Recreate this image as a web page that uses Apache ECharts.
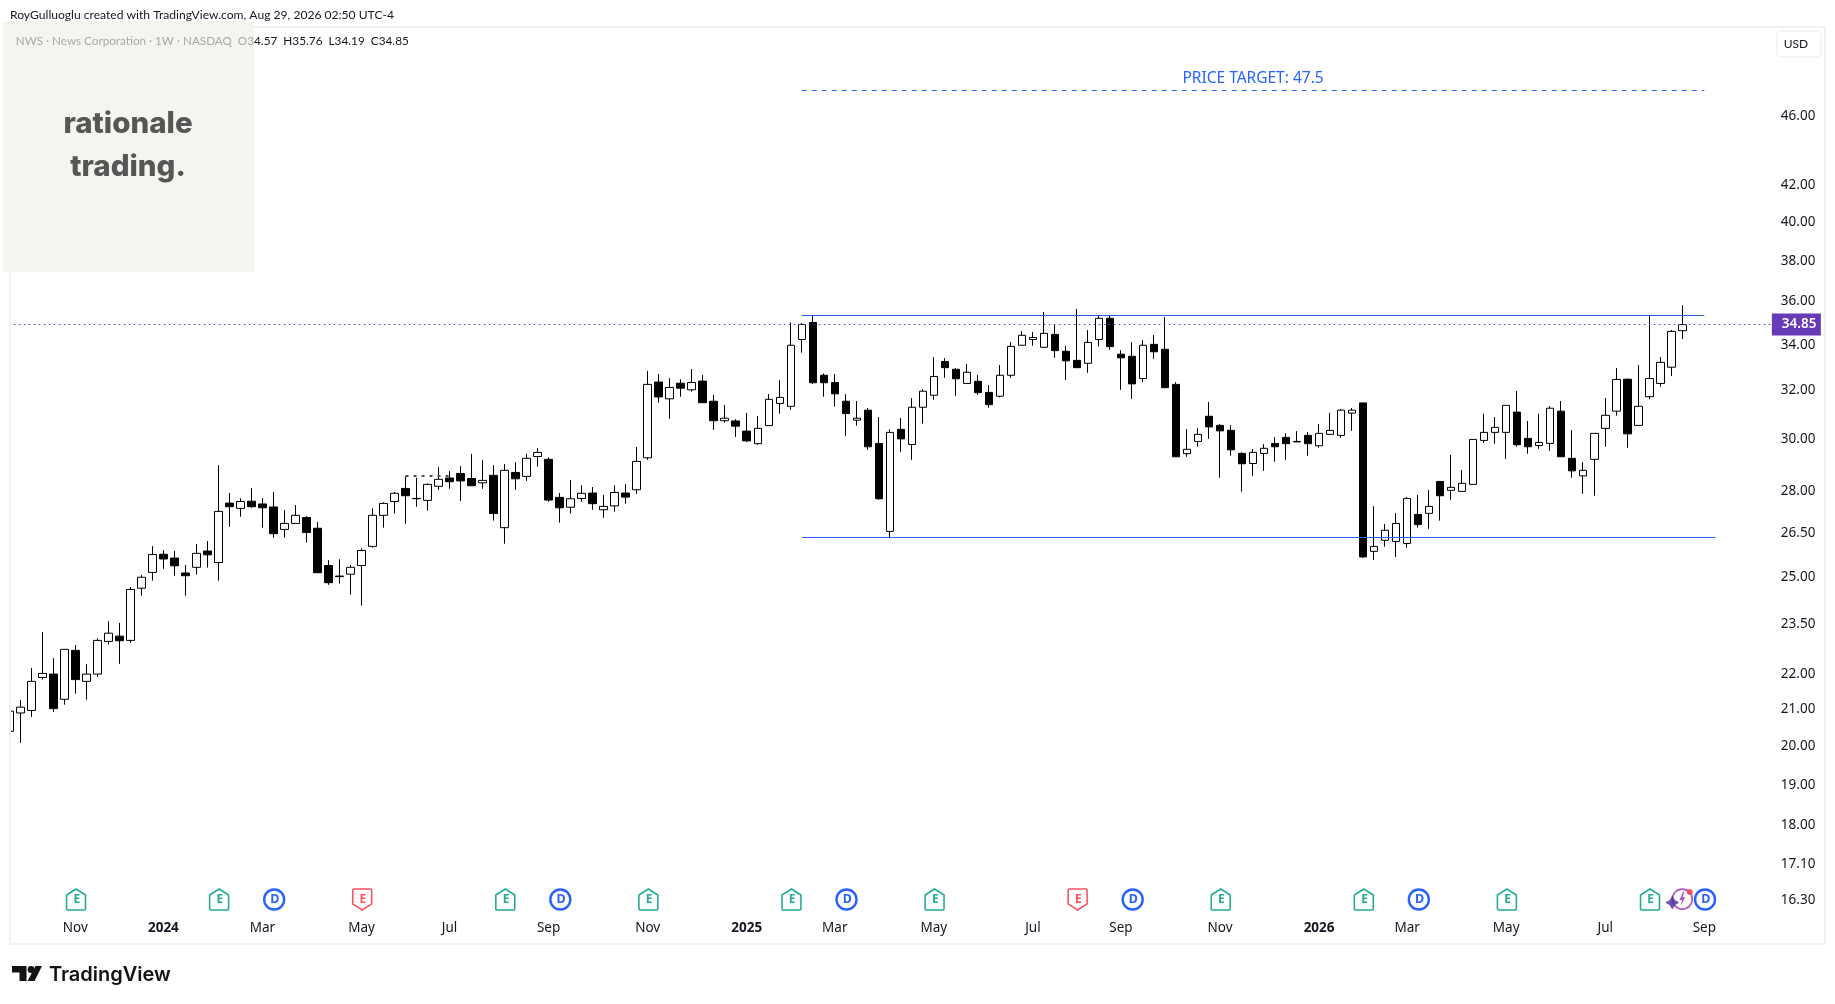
<!DOCTYPE html>
<html><head><meta charset="utf-8">
<style>html,body{margin:0;padding:0;background:#fff}#c{width:1835px;height:1004px}</style>
<script src="https://cdn.jsdelivr.net/npm/echarts@6/dist/echarts.min.js"></script>
</head><body><div id="c"></div>
<script>
const opens=[20.35,20.85,20.92,21.85,21.95,21.23,22.65,21.74,21.95,22.92,
23.08,22.95,24.59,25.11,25.72,25.59,25.09,25.28,25.83,25.44,
27.52,27.33,27.59,27.49,27.38,26.58,26.79,27.00,26.62,25.34,
24.99,25.05,25.34,25.99,27.08,27.58,28.06,27.69,27.62,28.14,
28.45,28.62,28.43,28.27,28.55,26.64,28.66,28.51,29.27,29.16,
27.73,27.37,27.69,27.89,27.28,27.42,27.89,28.01,29.22,32.30,
31.59,32.25,31.97,32.34,31.49,30.69,30.68,30.27,29.77,30.49,
31.40,31.28,34.17,34.95,32.59,32.28,31.49,30.71,31.12,29.78,
26.51,30.34,29.74,31.24,31.74,33.19,32.85,32.24,32.33,31.86,
31.70,32.59,33.91,34.17,33.82,34.40,33.64,33.24,33.11,34.17,
35.14,33.51,33.42,32.45,33.95,33.73,32.20,29.38,29.86,30.87,
30.50,30.30,29.39,29.00,29.39,29.78,30.02,29.86,30.10,29.69,
30.14,30.10,31.00,31.42,25.82,26.20,26.16,26.09,27.11,27.15,
28.32,27.99,27.95,28.21,29.90,30.22,30.22,31.04,29.98,29.70,
29.78,31.08,29.20,28.53,29.16,30.38,31.08,32.42,30.50,31.68,
32.24,32.94,34.57];
const closes=[20.90,21.01,21.74,21.97,20.97,22.68,21.79,21.95,22.95,23.17,
22.94,24.55,24.95,25.71,25.56,25.33,25.00,25.75,25.70,27.22,
27.39,27.58,27.39,27.35,26.43,26.79,27.08,26.47,25.10,24.77,
24.97,25.28,25.85,27.08,27.51,27.88,27.79,27.68,28.21,28.40,
28.31,28.34,28.16,28.36,27.14,28.74,28.42,29.20,29.43,27.63,
27.35,27.68,27.88,27.50,27.40,27.91,27.74,29.08,32.20,31.67,
32.07,32.04,32.28,31.43,30.69,30.79,30.47,29.88,30.38,31.57,
31.65,33.91,34.86,32.27,32.27,31.80,30.98,30.79,29.65,27.68,
30.22,29.96,31.24,31.91,32.54,32.92,32.44,32.72,31.85,31.35,
32.59,33.86,34.36,34.26,34.45,33.67,33.22,32.92,34.04,35.14,
33.85,33.35,32.22,33.91,33.62,32.06,29.26,29.55,30.14,30.44,
30.28,29.53,28.99,29.43,29.59,29.65,29.77,29.84,29.77,30.18,
30.30,31.12,31.12,25.63,25.99,26.55,26.79,27.69,26.75,27.40,
27.79,28.10,28.25,29.94,30.22,30.42,31.32,29.73,29.65,29.82,
31.20,29.26,28.72,28.74,30.18,30.91,32.41,30.16,31.28,32.45,
33.15,34.54,34.85];
const highs=[20.96,21.21,22.13,23.21,22.42,22.68,22.81,22.24,23.01,23.54,
23.49,24.63,25.02,26.00,25.86,25.83,25.36,26.07,26.17,28.94,
27.89,27.70,28.07,27.70,27.93,27.27,27.45,27.05,26.84,25.52,
25.55,25.36,25.92,27.33,27.55,27.93,28.52,28.45,28.25,28.86,
28.71,28.90,29.37,29.13,28.94,28.98,29.05,29.37,29.60,29.24,
27.89,28.37,28.18,28.11,27.82,28.18,28.22,29.64,32.78,32.64,
32.47,32.42,32.86,32.60,31.75,31.33,30.75,31.01,30.88,31.79,
32.38,34.95,34.92,35.25,32.67,32.64,31.79,31.50,31.21,30.84,
30.34,30.80,31.62,32.00,33.38,33.34,32.91,33.08,32.60,32.17,
33.03,34.05,34.55,34.51,35.44,34.83,33.88,35.58,34.60,35.25,
35.25,33.69,34.05,34.14,34.37,35.20,32.30,30.35,30.39,31.46,
30.56,30.51,29.44,29.56,29.75,30.03,30.19,30.27,30.23,30.56,
31.01,31.17,31.21,31.42,27.41,26.77,27.16,27.74,27.82,28.00,
28.33,29.33,28.75,29.95,30.97,30.84,31.32,31.92,30.68,30.97,
31.29,31.50,30.31,29.05,30.18,31.62,32.91,32.45,33.03,35.29,
33.38,34.60,35.76];
const lows=[19.98,20.04,20.74,21.79,20.88,21.08,21.39,21.22,21.87,22.82,
22.25,22.88,24.35,24.84,25.23,25.00,24.35,25.04,25.27,24.84,
26.67,27.03,27.35,26.64,26.29,26.29,26.79,26.12,25.10,24.70,
24.74,24.38,24.03,25.94,26.64,27.14,26.78,27.39,27.25,28.01,
28.05,27.60,28.16,28.05,26.89,26.08,28.01,28.34,28.88,27.57,
26.82,27.14,27.57,27.28,26.99,27.21,27.50,27.86,29.14,31.43,
30.77,31.68,31.89,31.43,30.32,30.61,30.04,29.84,29.73,30.49,
30.98,31.14,33.58,32.22,31.68,31.27,30.08,30.49,29.53,27.64,
26.27,29.45,29.14,30.57,31.55,32.48,31.72,32.24,31.76,31.22,
31.65,32.48,33.91,33.89,33.82,33.35,32.39,32.92,32.70,33.85,
33.71,31.97,31.59,32.31,33.31,32.06,29.26,29.26,29.65,29.96,
28.46,29.30,27.94,28.53,28.72,29.07,29.14,29.84,29.30,29.61,
30.14,30.00,30.28,25.60,25.53,25.98,25.63,25.94,26.64,26.60,
26.89,27.64,27.95,28.21,29.80,29.77,29.18,29.65,29.38,29.57,
29.49,29.26,28.46,27.86,27.79,29.65,30.90,29.61,30.50,31.57,
32.10,32.56,34.19];

const weekCount=161;
const priceTicks=[46,42,40,38,36,34,32,30,28,26.5,25,23.5,22,21,20,19,18,17.1,16.3];
const timeTicks={6:'Nov',14:'2024',23:'Mar',32:'May',40:'Jul',49:'Sep',58:'Nov',67:'2025',75:'Mar',84:'May',93:'Jul',101:'Sep',110:'Nov',119:'2026',127:'Mar',136:'May',145:'Jul',154:'Sep'};
const earningsUp=[6,19,45,58,71,84,110,123,136,149];
const earningsDown=[32,97];
const dividends=[24,50,76,102,128,154];
const flashWeek=[152];
const eventPrice=16.30;
const target=47.5, resistance=35.30, support=26.29, lastPrice=34.85, minorLevel=28.53;

const FONT='"Noto Sans"';
const categories=Array.from({length:weekCount},(_,i)=>'W'+i);
const ohlc=opens.map((o,i)=>[o,closes[i],lows[i],highs[i]]);
const evt=(list)=>list.map(i=>[categories[i],eventPrice]);
const HOUSE='path://M10 1 L19 6.5 L19 19 Q19 20 18 20 L2 20 Q1 20 1 19 L1 6.5 Z';
const SHIELD='path://M2 1 L18 1 Q19 1 19 2 L19 14.5 L10 20 L1 14.5 L1 2 Q1 1 2 1 Z';
const BOLT='path://M7 0 L1 9 L5 9 L3 16 L10 6 L6 6 L9 0 Z';
const STAR='path://M6 0 L8.2 3.8 L12 6 L8.2 8.2 L6 12 L3.8 8.2 L0 6 L3.8 3.8 Z';

function marker(name,list,symbol,size,color,text,z){
  return {type:'scatter',name,data:evt(list),symbol,symbolSize:size,symbolKeepAspect:true,symbolOffset:[0.7,0.4],z:z||6,silent:true,
    itemStyle:{color:'#fff',borderColor:color,borderWidth:text==='D'?2.4:1.6,opacity:1},
    label:{show:true,position:'inside',offset:[0.7,0.4],formatter:text,color:color,fontFamily:FONT,fontWeight:700,fontSize:text==='D'?12.5:12}};
}
const T=(x,y,text,font,fill,extra)=>({type:'text',z:120,silent:true,style:Object.assign({x,y,text,font,fill,textVerticalAlign:'middle'},extra||{})});

const lastO=opens[opens.length-1].toFixed(2), lastH=highs[highs.length-1].toFixed(2), lastL=lows[lows.length-1].toFixed(2), lastC=closes[closes.length-1].toFixed(2);

const option={
  animation:false,backgroundColor:'#fff',
  grid:{left:3.8,top:27,width:1772.06,height:916,containLabel:false},
  xAxis:{type:'category',data:categories,boundaryGap:true,
    axisLine:{show:false},axisTick:{show:false},splitLine:{show:false},
    axisLabel:{show:true,inside:true,margin:8,hideOverlap:false,
      interval:(i)=>timeTicks[i]!==undefined,
      formatter:(v,i)=>{const s=timeTicks[i];return /^\d/.test(s)?'{b|'+s+'}':'{n|'+s+'}';},
      rich:{n:{fontFamily:FONT,fontSize:13.5,color:'#131722'},b:{fontFamily:FONT,fontSize:13.5,fontWeight:700,color:'#131722'}}}},
  yAxis:{type:'log',logBase:10,min:15.38,max:51.66,position:'right',scale:true,
    axisLine:{show:false},axisTick:{show:false},splitLine:{show:false},minorTick:{show:false},minorSplitLine:{show:false},
    axisLabel:{show:true,customValues:priceTicks,margin:5,formatter:(v)=>'{p|'+(+v).toFixed(2)+'}',
      rich:{p:{fontFamily:FONT,fontSize:13.5,color:'#131722',padding:[3,0,0,0]}},
      hideOverlap:false,showMinLabel:true,showMaxLabel:true}},
  series:[
    {type:'candlestick',name:'NWS',data:ohlc,barWidth:8,clip:true,z:3,silent:true,
      itemStyle:{color:'#ffffff',color0:'#000000',borderColor:'#000000',borderColor0:'#000000',borderColorDoji:'#000000',borderWidth:1},
      markLine:{silent:true,symbol:'none',animation:false,z:4,
        data:[
          [{coord:[categories[72],target],lineStyle:{color:'#2962ff',width:1.2,type:[5,5]},
            label:{show:true,position:'middle',distance:4,formatter:'PRICE TARGET: '+target,color:'#2962ff',fontFamily:FONT,fontSize:15.5}},
           {coord:[categories[154],target]}],
          [{coord:[categories[72],resistance],lineStyle:{color:'#2f5fe0',width:1,type:'solid'},label:{show:false}},{coord:[categories[154],resistance]}],
          [{coord:[categories[72],support],lineStyle:{color:'#2962ff',width:1.2,type:'solid'},label:{show:false}},{coord:[categories[155],support]}],
          [{coord:[categories[36],minorLevel],lineStyle:{color:'#555',width:2,type:[3,5]},label:{show:false}},{coord:[categories[40],minorLevel]}],
          {yAxis:lastPrice,lineStyle:{color:'#5e35b1',width:1,type:[1.5,3.5]},
            label:{show:true,position:'end',distance:-4,formatter:lastPrice.toFixed(2),backgroundColor:'#673ab7',color:'#fff',fontFamily:FONT,fontSize:13.5,fontWeight:600,padding:[5,8,2,10],width:31,height:15,lineHeight:15,align:'left'}}
        ]}},
    marker('Earnings beat',earningsUp,HOUSE,[20,21],'#22ab94','E'),
    marker('Earnings miss',earningsDown,SHIELD,[20,21],'#f7525f','E'),
    {type:'scatter',name:'Flash ring',data:evt(flashWeek),symbol:'circle',symbolSize:20,z:5,silent:true,itemStyle:{color:'#fff',borderColor:'#9c27b0',borderWidth:1.6}},
    {type:'scatter',name:'Flash bolt',data:evt(flashWeek),symbol:BOLT,symbolSize:[10,15],symbolKeepAspect:true,z:6,silent:true,itemStyle:{color:'#9c27b0'}},
    {type:'scatter',name:'Flash star',data:evt(flashWeek),symbol:STAR,symbolSize:14,symbolOffset:[-10,3.5],z:7,silent:true,itemStyle:{color:'#4a2a9e'}},
    {type:'scatter',name:'Flash dot',data:evt(flashWeek),symbol:'circle',symbolSize:6,symbolOffset:[7.5,-7],z:7,silent:true,itemStyle:{color:'#f23645'}},
    marker('Dividends',dividends,'circle',20,'#2962ff','D',8)
  ],
  graphic:{elements:[
    {type:'rect',z:100,silent:true,shape:{x:0,y:270,width:10,height:680},style:{fill:'#fff'}},
    {type:'rect',z:101,silent:true,shape:{x:10,y:27,width:1815,height:917},style:{fill:'none',stroke:'#f1f1f1',lineWidth:2}},
    {type:'rect',z:102,silent:true,shape:{x:3,y:21,width:251,height:251},style:{fill:'#f4f3ee',opacity:.95}},
    T(128,124,'rationale','800 29.5px Inter','#565656',{textAlign:'center'}),
    T(128,167,'trading.','800 29.5px Inter','#565656',{textAlign:'center'}),
    T(10,15,'RoyGulluoglu created with TradingView.com, Aug 29, 2026 02:50 UTC-4','12.1px Lato','#131722'),
    T(254,41.5,'NWS · News Corporation · 1W · NASDAQ  O'+lastO.slice(0,1),'11.7px Lato','#a9a9a5',{textAlign:'right'}),
    T(254,41.5,lastO.slice(1)+'  H'+lastH+'  L'+lastL+'  C'+lastC,'11.8px Lato','#131722'),
    {type:'rect',z:110,silent:true,shape:{x:1777,y:31,width:44,height:26,r:4},style:{fill:'#fff',stroke:'#f1f1f1',lineWidth:1.5}},
    T(1796,44.5,'USD','12px Lato','#131722',{textAlign:'center'}),
    {type:'polygon',z:120,silent:true,shape:{points:[[12,966],[26.5,966],[26.5,981],[19.5,981],[19.5,972.5],[12,972.5]]},style:{fill:'#131313'}},
    {type:'circle',z:120,silent:true,shape:{cx:31,cy:969.5,r:3.4},style:{fill:'#131313'}},
    {type:'polygon',z:120,silent:true,shape:{points:[[35.5,966],[42,966],[34.5,981],[27.5,981]]},style:{fill:'#131313'}},
    T(49,975,'TradingView','600 20px Inter','#131313')
  ]}
};
const chart=echarts.init(document.getElementById('c'),null,{renderer:'canvas'});
chart.setOption(option);
</script></body></html>
